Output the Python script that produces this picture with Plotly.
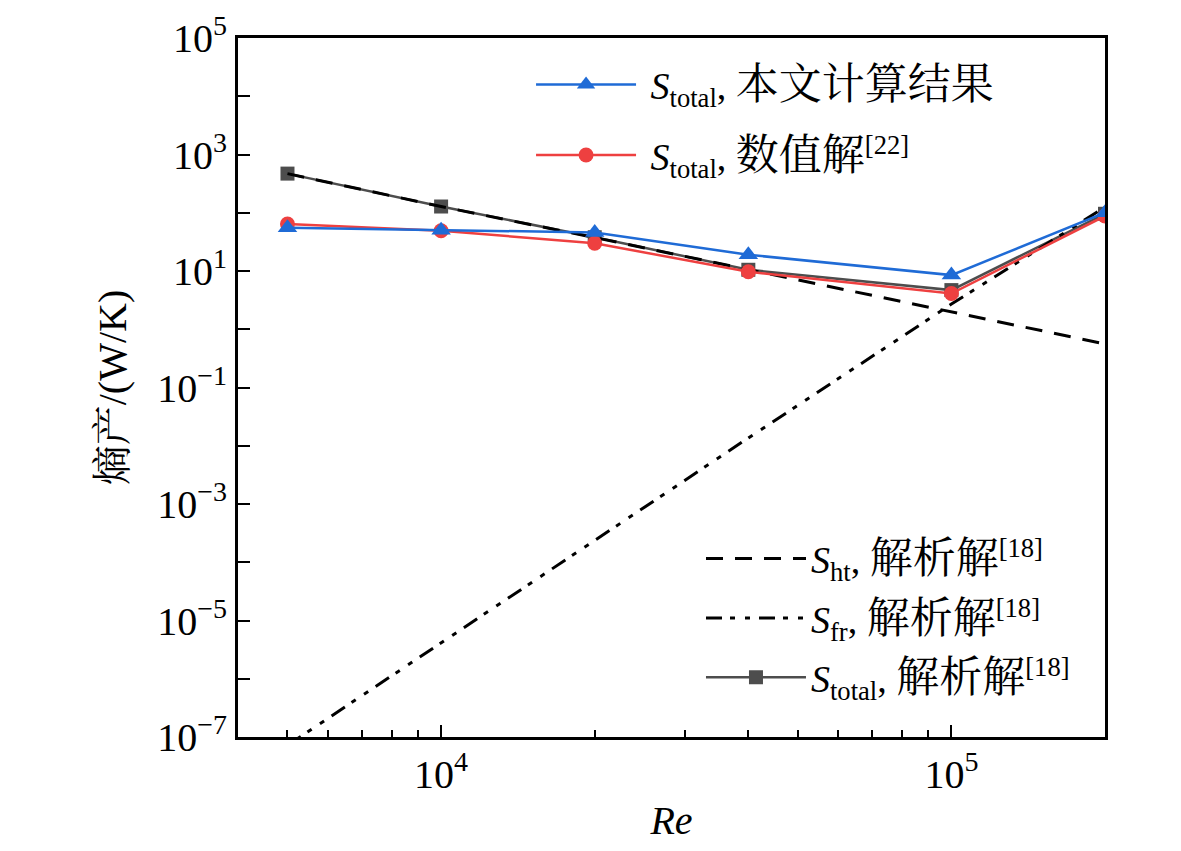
import plotly.graph_objects as go

Re = [5000, 10000, 20000, 40000, 100000, 200000]
S_present = [55, 50, 46, 19, 8.5, 100]
S_numerical = [64, 49, 30, 9.7, 4.1, 88]
S_ht = [470, 128, 37.5, 10.5, 2.0, 0.56]
S_fr = [7.2e-8, 4.1e-6, 2.4e-4, 0.0136, 2.7, 125]
S_total_analytic = [470, 128, 38, 10.5, 4.7, 96]

y_tickvals = [1e-7, 1e-5, 1e-3, 1e-1, 1e1, 1e3, 1e5]
y_ticktext = ["10<sup>−7</sup>", "10<sup>−5</sup>", "10<sup>−3</sup>", "10<sup>−1</sup>",
              "10<sup>1</sup>", "10<sup>3</sup>", "10<sup>5</sup>"]
x_tickvals = [1e4, 1e5]
x_ticktext = ["10<sup>4</sup>", "10<sup>5</sup>"]

CJK = "<span style='font-size:43px'>{}</span>"
names = {
    "present": "\u00a0<i>S</i><sub>total</sub>, " + CJK.format("本文计算结果"),
    "numerical": "\u00a0<i>S</i><sub>total</sub>, " + CJK.format("数值解") + "<sup>[22]</sup>",
    "ht": "<i>S</i><sub>ht</sub>, " + CJK.format("解析解") + "<sup>[18]</sup>",
    "fr": "<i>S</i><sub>fr</sub>, " + CJK.format("解析解") + "<sup>[18]</sup>",
    "total": "<i>S</i><sub>total</sub>, " + CJK.format("解析解") + "<sup>[18]</sup>",
}
y_title = "熵产<span style=\"font-family:'Liberation Serif'\">/(W/K)</span>"

FONT = "Liberation Serif, Noto Serif CJK SC, Noto Sans CJK SC, serif"

fig = go.Figure()
fig.add_trace(go.Scatter(x=Re, y=S_total_analytic, mode="lines+markers", name=names["total"],
                         line=dict(color="#4d4d4d", width=2.5),
                         marker=dict(symbol="square", size=14, color="#4d4d4d"),
                         legend="legend2", legendrank=3, legendgroup="g5"))
fig.add_trace(go.Scatter(x=Re, y=S_ht, mode="lines", name=names["ht"],
                         line=dict(color="black", width=3, dash="17px,12px"),
                         legend="legend2", legendrank=1, legendgroup="g3"))
fig.add_trace(go.Scatter(x=Re, y=S_fr, mode="lines", name=names["fr"],
                         line=dict(color="black", width=3, dash="16px,8px,5px,10px,5px,9px"),
                         legend="legend2", legendrank=2, legendgroup="g4"))
fig.add_trace(go.Scatter(x=Re, y=S_numerical, mode="lines+markers", name=names["numerical"],
                         line=dict(color="#ee4040", width=2.5),
                         marker=dict(symbol="circle", size=15, color="#ee4040"),
                         legend="legend", legendrank=2, legendgroup="g2"))
fig.add_trace(go.Scatter(x=Re, y=S_present, mode="lines+markers", name=names["present"],
                         line=dict(color="#1f6bd6", width=2.5),
                         marker=dict(symbol="triangle-up", size=17, color="#1f6bd6"),
                         legend="legend", legendrank=1, legendgroup="g1"))

fig.update_layout(
    width=1181, height=851,
    margin=dict(l=230, r=84, t=30, b=122),
    paper_bgcolor="white", plot_bgcolor="white",
    font=dict(family=FONT, size=38, color="black"),
    legend=dict(x=0.338, y=0.978, xanchor="left", yanchor="top",
                bgcolor="rgba(0,0,0,0)", itemwidth=100, font=dict(family=FONT, size=38),
                tracegroupgap=18, traceorder="grouped"),
    legend2=dict(x=0.534, y=0.30, xanchor="left", yanchor="top",
                 bgcolor="rgba(0,0,0,0)", itemwidth=100, font=dict(family=FONT, size=38),
                 tracegroupgap=7, traceorder="grouped"),
)

fig.update_xaxes(
    type="log", range=[3.602, 5.301], automargin=False,
    showline=True, linecolor="black", linewidth=3, mirror=True,
    ticks="inside", ticklen=12, tickwidth=2, tickcolor="black",
    tickmode="array", tickvals=x_tickvals, ticktext=x_ticktext,
    showgrid=False, zeroline=False,
    tickfont=dict(family=FONT, size=40),
    minor=dict(ticks="inside", ticklen=7, tickwidth=2, tickcolor="black", dtick="D1", showgrid=False),
    title=dict(text="<i>Re</i>", font=dict(family=FONT, size=40), standoff=10),
)
fig.update_yaxes(
    type="log", range=[-7, 5], automargin=False,
    showline=True, linecolor="black", linewidth=3, mirror=True,
    ticks="inside", ticklen=12, tickwidth=2, tickcolor="black",
    tickmode="array", tickvals=y_tickvals, ticktext=y_ticktext,
    showgrid=False, zeroline=False,
    tickfont=dict(family=FONT, size=40),
    minor=dict(ticks="inside", ticklen=12, tickwidth=2, tickcolor="black", dtick=1, tick0=0, showgrid=False),
    title=dict(text=y_title, font=dict(family=FONT, size=40), standoff=19),
)

fig.write_html("out.html")
